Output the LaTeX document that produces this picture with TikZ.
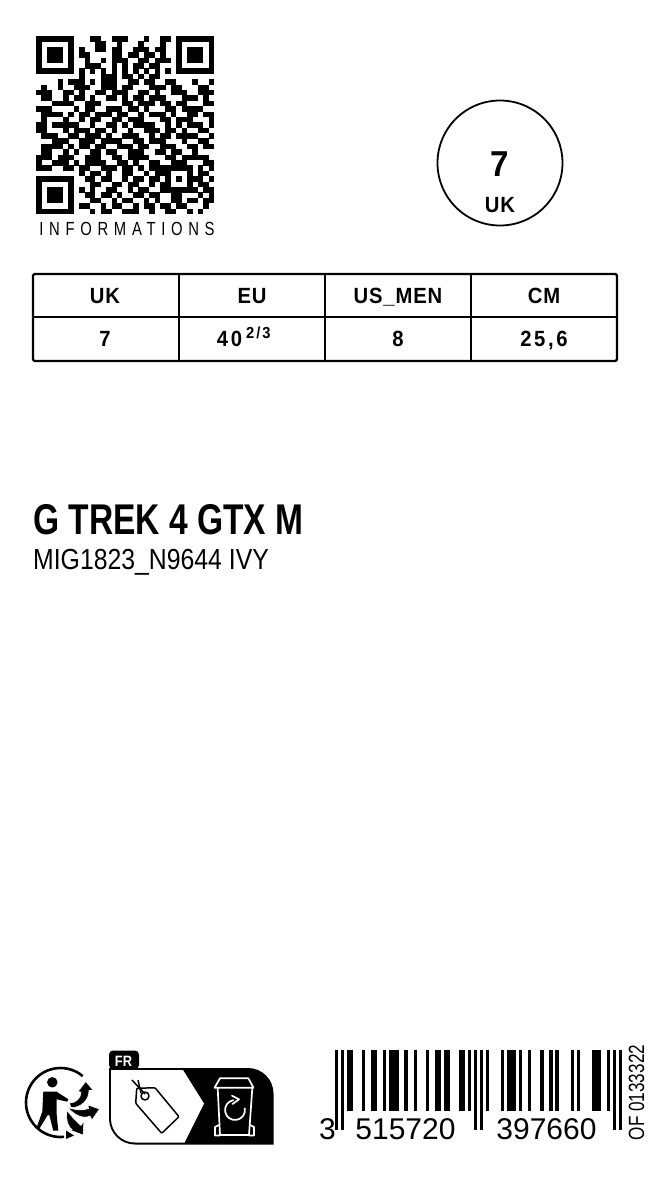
\documentclass[tikz,border=0pt]{standalone}
\usepackage{fontspec}
\setmainfont{Liberation Sans}
\newfontfamily\sizefont[FakeStretch=0.92,LetterSpace=4]{Liberation Sans}
\newfontfamily\valuefont[FakeStretch=0.92,LetterSpace=12]{Liberation Sans}
\newfontfamily\namefont[FakeStretch=0.78]{Liberation Sans}
\newfontfamily\linefont[FakeStretch=0.855]{Liberation Sans}
\newfontfamily\infofont[FakeStretch=0.78,LetterSpace=30]{Liberation Sans}
\newfontfamily\codefont[FakeStretch=0.78]{Liberation Sans}
\newcommand{\pxfont}[1]{\fontsize{#1}{#1}\selectfont}
\newcount\bitcol
\def\bitscan#1{\ifx#1.\let\bitnext\relax\else\if#11\fill (\stripx+\the\bitcol*\stripdx,\stripy) rectangle ++(\stripdx+0.15,\striph);\fi\advance\bitcol by 1 \let\bitnext\bitscan\fi\bitnext}
\newcommand{\bitstrip}[5]{\def\stripx{#2}\def\stripdx{#3}\def\stripy{#4}\def\striph{#5}\bitcol=0 \expandafter\bitscan#1.}
\tikzset{
  sizecell/.style={anchor=base,inner sep=0pt,font=\sizefont\bfseries\pxfont{22}},
  valuecell/.style={anchor=base,inner sep=0pt,font=\valuefont\bfseries\pxfont{22}},
  gridline/.style={line width=2pt},
  barcodedigit/.style={anchor=base,inner sep=0pt,font=\pxfont{30}},
  whiteline/.style={draw=white,line width=1.7pt,line join=round,line cap=round},
  tagline/.style={draw=black,line width=1.5pt,line join=round},
  wasteleaf/.style={fill=black,draw=white,line width=0.6pt}
}
\begin{document}
\begin{tikzpicture}[x=1pt,y=-1pt]
\useasboundingbox (0,0) rectangle (660,1200);

% Drawing QR code
\foreach \qrrow/\qrbits in {
  0/111111100011001110001001101111111,
  1/100000100001100100010001001000001,
  2/101110101001101100111011001011101,
  3/101110101100001101101101001011101,
  4/101110100100101110011011101011101,
  5/100000100111001010110110001000001,
  6/111111101010101010101010101111111,
  7/000000001000111011010110000000000,
  8/000010111010111001101100110001001,
  9/010010011100111011000111011000110,
  10/111001101001101110011010011100111,
  11/011001011010011010110111000111010,
  12/000111100111000011011101101100011,
  13/111000010110011101101000110111100,
  14/011110101101110110010111010011011,
  15/010001001011001101110001101110001,
  16/110111110010011010111100101011101,
  17/110001011101101001001110110100110,
  18/011100110111010011100101101111001,
  19/000111001110111100110111000100110,
  20/011110101101100111011001110011011,
  21/011001010011011001110011011001000,
  22/111011100111001101111000110111110,
  23/100111010111100110100110011100011,
  24/111001101100111011010111111110101,
  25/000000001011010011001011100010110,
  26/111111100110110010110110101011101,
  27/100000100011001101100101100010110,
  28/101110101010011001011001111111011,
  29/101110100110110100110110011000101,
  30/101110100011001011001010011011011,
  31/100000101100101100101101101100010,
  32/111111100010110011100100110010100}
  {\bitstrip{\qrbits}{36}{5.394}{36+\qrrow*5.394}{5.55}}

\node (infolabel) [anchor=base,inner sep=0pt,font=\infofont\pxfont{19}] at (127,235) {INFORMATIONS};

% Drawing size ring
\node (sizering) [circle,draw,line width=1.8pt,minimum size=125pt,inner sep=0pt] at (500,163) {};
\node (ringvalue) [anchor=base,inner sep=0pt,font=\sizefont\bfseries\pxfont{36}] at (500,176) {7};
\node (ringunit) [sizecell] at (500,212) {UK};

% Drawing size table
\draw [gridline,line width=2.4pt,rounded corners=1.5pt] (33,274) rectangle (617,361);
\draw [gridline] (33,317) -- (617,317);
\draw [gridline] (179,274) -- (179,361);
\draw [gridline] (325,274) -- (325,361);
\draw [gridline] (471,274) -- (471,361);
\foreach \colx/\headname/\sizeval/\cellname in {105/UK/7/uk,252/EU/{}/eu,398/US\_MEN/8/us,544/CM/{25,6}/cm}{
  \node (head\cellname) [sizecell] at (\colx,303) {\headname};
  \node (value\cellname) [valuecell] at (\colx,346) {\sizeval};
}
\node (valueeu2) [valuecell] at (229.5,346) {40};
\node (valueeu3) [anchor=base west,inner sep=0pt,font=\valuefont\bfseries\pxfont{16}] at (246,338) {2/3};

% Drawing product name
\node (productname) [anchor=base west,inner sep=0pt,font=\namefont\bfseries\pxfont{43}] at (33,534) {G TREK 4 GTX M};
\node (productcode) [anchor=base west,inner sep=0pt,font=\linefont\pxfont{29}] at (33,569) {MIG1823\_N9644 IVY};

% Drawing Triman sign
\draw [line width=2.6pt] (60.5,1102.5) ++(-50:34.5) arc (-50:-276:34.5);
\fill (66,1130.5) -- (74,1135.5) -- (66,1139) -- cycle;
\node (tmanhead) [circle,fill=black,minimum size=10.5pt,inner sep=0pt] at (52.3,1082.3) {};
\fill (43.3,1091.7) -- (56.7,1091.7) -- (68.3,1099.3) -- (67.3,1101.7) -- (56.7,1099.3) -- (56.7,1115)
  -- (58.3,1130.7) -- (53.3,1130.7) -- (49.3,1115) -- (47.7,1115) -- (39,1129.3) -- (36.7,1127.3) -- (42.3,1111.7) -- cycle;
\filldraw [wasteleaf] (66.5,1110) .. controls (66,1122) and (69,1128) .. (72,1129.5) -- (70,1130) -- (83,1135) -- (84,1121) -- (81,1125.5) .. controls (77,1122) and (72,1117) .. (66.5,1110) -- cycle;
\filldraw [wasteleaf] (68,1107.5) .. controls (75,1116) and (84,1119) .. (90,1116) -- (92,1120) -- (99.5,1109) -- (88,1105) -- (88.5,1108.5) .. controls (82,1111) and (75,1110) .. (68,1107.5) -- cycle;
\filldraw [wasteleaf] (69.5,1103) .. controls (76,1103) and (81,1098) .. (81,1092) -- (78,1091.5) -- (85.7,1081.5) -- (93.5,1090.5) -- (89,1090.5) .. controls (89,1100) and (81,1108) .. (71,1107.5) -- cycle;

% Drawing sorting panel
\fill [rounded corners=4pt] (109,1069) -- (109,1050.5) -- (139,1050.5) -- (139,1069) -- cycle;
\fill (109,1068) -- (248,1068) arc (-90:0:25.5) -- (273.5,1144.5) -- (135,1144.5) arc (-270:-180:26) -- cycle;
\fill [white] (111,1070) -- (183,1070) -- (204,1103.5) -- (184.5,1142.5) -- (135,1142.5) arc (-270:-180:24) -- cycle;
\node (sortcountry) [anchor=base,inner sep=0pt,text=white,font=\linefont\bfseries\pxfont{15}] at (123.5,1066.5) {FR};

% Drawing tag
\draw [tagline,rounded corners=1pt] (136.7,1088.3) -- (155,1087.7) -- (179,1116.7) -- (161.7,1133.3) -- (135.7,1103.3) -- cycle;
\draw [tagline] (145,1096) circle (4);
\draw [tagline] (145,1094) -- (132,1080);
\draw [tagline] (141,1093) -- (138,1080);

% Drawing bin
\draw [whiteline] (220,1078.3) -- (248.3,1078.3) -- (253.5,1087.7) -- (214.5,1087.7) -- cycle;
\draw [whiteline] (217.7,1088.3) -- (220,1135) -- (249,1135) -- (252.3,1088.3);
\draw [whiteline] (219,1125) -- (215,1127) -- (215,1135.5) -- (220,1135.5);
\draw [whiteline] (250,1125) -- (254,1127) -- (254,1135.5) -- (249,1135.5);
\draw [whiteline] (235,1110) ++(-100:10) arc (-100:-370:10);
\draw [whiteline] (232,1095.7) -- (239,1099.3) -- (232.5,1104);

% Drawing barcode
\bitstrip{101}{335}{3.02}{1050}{80}
\bitstrip{011000100110010111001001000100110110001101}{335+3*3.02}{3.02}{1050}{61}
\bitstrip{01010}{335+45*3.02}{3.02}{1050}{80}
\bitstrip{100001011101001000100101000010100001110010}{335+50*3.02}{3.02}{1050}{61}
\bitstrip{101}{335+92*3.02}{3.02}{1050}{80}
\node (digitfirst) [barcodedigit] at (327.5,1139) {3};
\node (digitleft) [barcodedigit] at (405.5,1139) {515720};
\node (digitright) [barcodedigit] at (546.5,1139) {397660};
\node (printcode) [anchor=base,rotate=90,inner sep=0pt,font=\codefont\pxfont{22}] at (644,1092.5) {OF 0133322};
\end{tikzpicture}
\end{document}
